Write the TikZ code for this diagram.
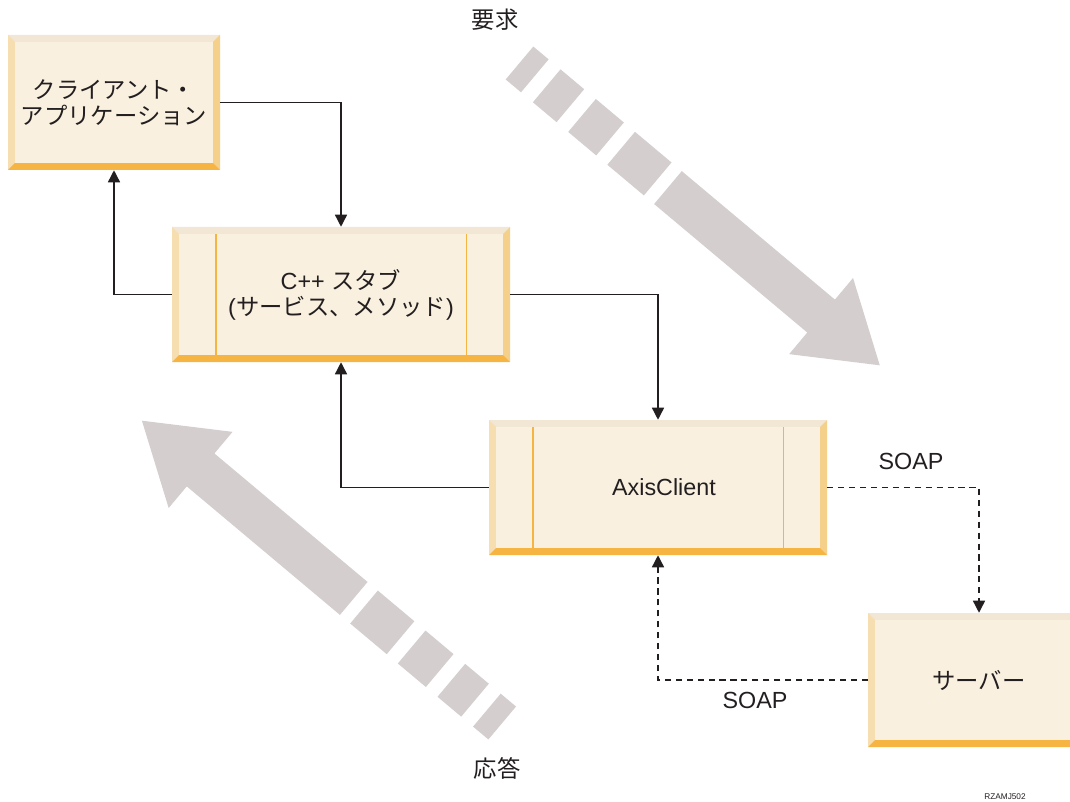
\documentclass[tikz,border=0pt]{standalone}
\usepackage{fontspec}
\setmainfont{Liberation Sans}
\newfontfamily\jp{Noto Sans CJK JP}
\usetikzlibrary{
    arrows.meta
}
\definecolor{ink}{HTML}{231F20}
\definecolor{boxfill}{HTML}{F9F0DF}
\definecolor{bevtop}{HTML}{F2E6D4}
\definecolor{bevleft}{HTML}{F6DEB1}
\definecolor{bevright}{HTML}{F5D08B}
\definecolor{bevbottom}{HTML}{F6B443}
\definecolor{flowgray}{HTML}{D4CECE}
\newcommand{\bevw}{5.2pt}
\newcommand{\bevels}{%
    \coordinate (nw) at (path picture bounding box.north west);
    \coordinate (ne) at (path picture bounding box.north east);
    \coordinate (sw) at (path picture bounding box.south west);
    \coordinate (se) at (path picture bounding box.south east);
    \fill[bevtop] (nw) -- (ne) -- ([shift={(-\bevw,-\bevw)}]ne) -- ([shift={(\bevw,-\bevw)}]nw) -- cycle;
    \fill[bevleft] (nw) -- ([shift={(\bevw,-\bevw)}]nw) -- ([shift={(\bevw,\bevw)}]sw) -- (sw) -- cycle;
    \fill[bevright] (ne) -- ([shift={(-\bevw,-\bevw)}]ne) -- ([shift={(-\bevw,\bevw)}]se) -- (se) -- cycle;
    \fill[bevbottom] (sw) -- ([shift={(\bevw,\bevw)}]sw) -- ([shift={(-\bevw,\bevw)}]se) -- (se) -- cycle;
}
\newcommand{\stublines}{%
    \draw[bevbottom, line width=1.2pt]
        ([shift={(33pt,-\bevw)}]nw) -- ([shift={(33pt,\bevw)}]sw)
        ([shift={(-32.5pt,-\bevw)}]ne) -- ([shift={(-32.5pt,\bevw)}]se);
}
% flecha grande, en coordenadas locales
\newcommand{\flowarrow}{%
    \foreach \a/\b in {0/20, 35.5/66.4, 81.6/118.2, 132.7/180.4}
        \fill[flowgray] (\a,-21.5) rectangle (\b,21.5);
    \fill[flowgray] (193.8,-21.5) -- (393.7,-21.5) -- (393.7,-49.7) -- (470.3,0)
        -- (393.7,49.7) -- (393.7,21.5) -- (193.8,21.5) -- cycle;
}
\tikzset{
    >={Triangle[length=9pt,width=9pt]},
    panel/.style={
        rectangle,
        inner sep=0pt,
        fill=boxfill,
        text=ink,
        align=center,
        font=\fontsize{17.5}{19.5}\selectfont,
        path picture={\bevels}
    },
    stubpanel/.style={
        panel,
        path picture={\bevels\stublines}
    },
    link/.style={
        draw=ink,
        line width=1.05pt
    },
    soap/.style={
        link,
        dash pattern=on 4.6pt off 3.6pt
    },
    tag/.style={
        text=ink,
        font=\fontsize{17.5}{19.5}\selectfont
    }
}

\begin{document}
\begin{tikzpicture}[
    x=0.75pt,
    y=-0.75pt
]

    \clip (0,0) rectangle (1070,802);

    % Flechas de fondo
    \begin{scope}[shift={(519.5,63)}, rotate=-40]
        \flowarrow
    \end{scope}
    \begin{scope}[shift={(502.2,723)}, rotate=140]
        \flowarrow
    \end{scope}

    % Cajas
    \node[panel, minimum width=159pt, minimum height=101.25pt]
        (client) at (114,102.5) {{\jp クライアント・}\\{\jp アプリケーション}};
    \node[stubpanel, minimum width=253.5pt, minimum height=101.25pt]
        (cstub) at (341,294.5) {C++ {\jp スタブ}\\({\jp サービス、メソッド})};
    \node[stubpanel, minimum width=253.5pt, minimum height=101.25pt]
        (axis) at (658,487.5) {\hspace*{9pt}AxisClient};
    \node[panel, minimum width=166.5pt, minimum height=100.5pt]
        (server) at (979,680) {\jp サーバー};

    % Textos
    \node[tag] (req)  at (495,20)  {\jp 要求};
    \node[tag] (resp) at (497,768) {\jp 応答};
    \node[tag] (soapout) at (911,461) {SOAP};
    \node[tag] (soapin)  at (755,700) {SOAP};
    \node[text=ink, font=\fontsize{6.2}{7}\selectfont] (figid) at (1005,797) {RZAMJ502};

    % Conexiones
    \draw[link, ->] (client.east) -| (cstub.north);
    \draw[link, ->] (cstub.west) -| (client.south);
    \draw[link, ->] (cstub.east) -| (axis.north);
    \draw[link, ->] (axis.west) -| (cstub.south);
    \draw[soap, ->] (axis.east) -| (server.north);
    \draw[soap, ->] (server.west) -| (axis.south);

\end{tikzpicture}
\end{document}
